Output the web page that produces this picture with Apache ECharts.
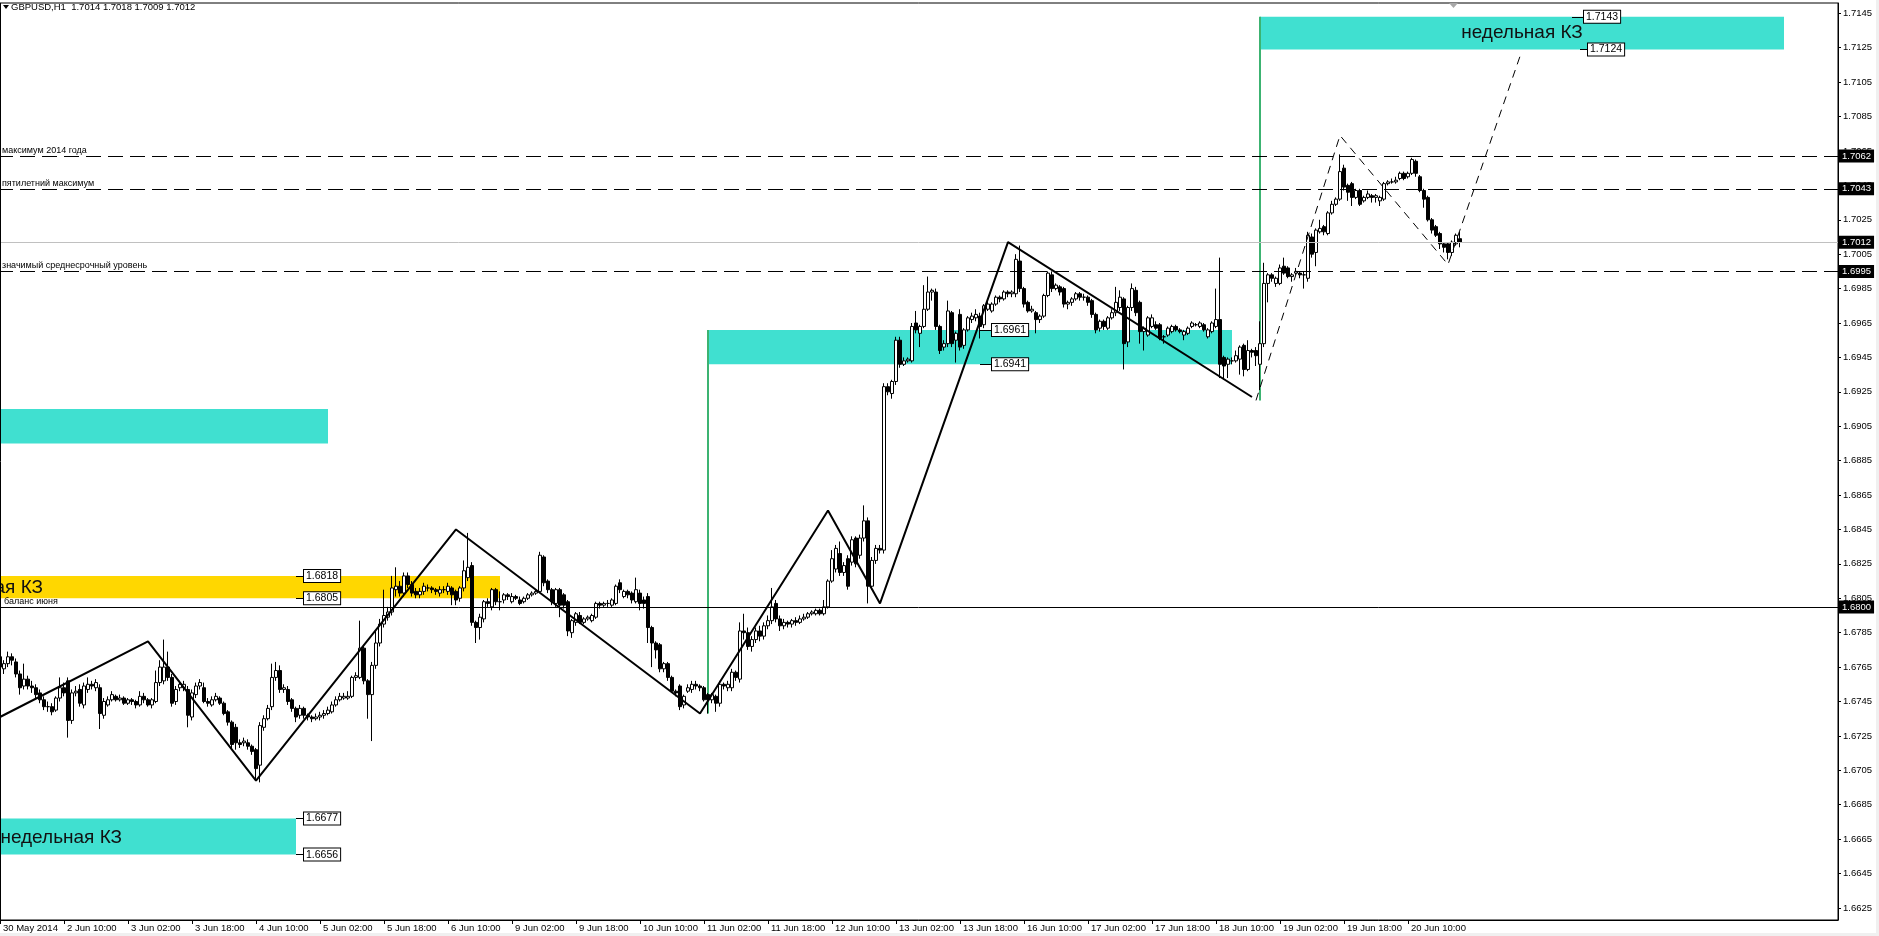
<!DOCTYPE html>
<html><head><meta charset="utf-8">
<script src="https://cdn.jsdelivr.net/npm/echarts@6/dist/echarts.min.js"></script>
<style>html,body{margin:0;padding:0;background:#fff}#c{width:1879px;height:936px}</style>
</head><body><div id="c"></div>
<script>
// ---------------- DATA ----------------
const symbolName = 'GBPUSD,H1';
const firstBar = [2014, 4, 30, 18];          // 30 May 2014 18:00, hourly bars, no weekend bars
const futureBars = 94;                         // empty slots to the right (chart shift)
// [open, close, low, high]
const candles = [
[1.6771,1.6765,1.6762,1.6775],[1.6764,1.6767,1.6761,1.6769],[1.6767,1.6771,1.6765,1.6774],[1.6771,1.6769,1.6766,1.6773],[1.6768,1.6761,1.6759,1.6770],
[1.6761,1.6753,1.6749,1.6763],[1.6754,1.6758,1.6752,1.6767],[1.6758,1.6754,1.6752,1.6760],[1.6754,1.6753,1.6750,1.6757],[1.6753,1.6749,1.6747,1.6755],
[1.6750,1.6746,1.6744,1.6752],[1.6746,1.6742,1.6740,1.6748],[1.6742,1.6742,1.6739,1.6745],[1.6742,1.6739,1.6737,1.6744],[1.6740,1.6747,1.6739,1.6748],
[1.6747,1.6753,1.6745,1.6759],[1.6753,1.6750,1.6748,1.6756],[1.6757,1.6734,1.6724,1.6759],[1.6734,1.6750,1.6732,1.6752],[1.6750,1.6751,1.6748,1.6754],
[1.6752,1.6744,1.6742,1.6755],[1.6743,1.6754,1.6741,1.6756],[1.6752,1.6755,1.6750,1.6759],[1.6755,1.6754,1.6752,1.6757],[1.6753,1.6756,1.6751,1.6758],
[1.6753,1.6738,1.6729,1.6755],[1.6737,1.6745,1.6735,1.6747],[1.6743,1.6746,1.6742,1.6748],[1.6746,1.6749,1.6745,1.6751],[1.6748,1.6746,1.6745,1.6749],
[1.6746,1.6747,1.6745,1.6749],[1.6747,1.6744,1.6743,1.6748],[1.6744,1.6746,1.6743,1.6747],[1.6746,1.6745,1.6743,1.6747],[1.6745,1.6743,1.6741,1.6746],
[1.6743,1.6748,1.6742,1.6751],[1.6748,1.6746,1.6744,1.6750],[1.6746,1.6743,1.6742,1.6747],[1.6743,1.6746,1.6741,1.6747],[1.6745,1.6756,1.6744,1.6763],
[1.6756,1.6765,1.6754,1.6769],[1.6757,1.6765,1.6755,1.6781],[1.6765,1.6759,1.6757,1.6774],[1.6759,1.6744,1.6742,1.6761],[1.6745,1.6752,1.6743,1.6754],
[1.6753,1.6755,1.6751,1.6757],[1.6753,1.6755,1.6751,1.6757],[1.6752,1.6737,1.6730,1.6754],[1.6736,1.6750,1.6734,1.6752],[1.6749,1.6754,1.6747,1.6756],
[1.6754,1.6756,1.6752,1.6758],[1.6753,1.6745,1.6744,1.6756],[1.6745,1.6744,1.6742,1.6747],[1.6743,1.6746,1.6742,1.6748],[1.6746,1.6748,1.6745,1.6750],
[1.6747,1.6744,1.6743,1.6748],[1.6744,1.6738,1.6737,1.6745],[1.6739,1.6733,1.6731,1.6740],[1.6733,1.6720,1.6718,1.6734],[1.6730,1.6721,1.6717,1.6732],
[1.6721,1.6720,1.6718,1.6723],[1.6721,1.6722,1.6719,1.6724],[1.6721,1.6719,1.6717,1.6723],[1.6719,1.6716,1.6714,1.6720],[1.6717,1.6706,1.6700,1.6718],
[1.6708,1.6731,1.6698,1.6733],[1.6730,1.6735,1.6728,1.6737],[1.6735,1.6741,1.6734,1.6743],[1.6742,1.6759,1.6740,1.6767],[1.6759,1.6763,1.6757,1.6768],
[1.6763,1.6752,1.6750,1.6766],[1.6752,1.6753,1.6750,1.6755],[1.6752,1.6745,1.6743,1.6754],[1.6746,1.6741,1.6739,1.6747],[1.6741,1.6736,1.6733,1.6742],
[1.6737,1.6741,1.6735,1.6743],[1.6741,1.6737,1.6735,1.6742],[1.6737,1.6736,1.6734,1.6738],[1.6736,1.6735,1.6733,1.6737],[1.6735,1.6736,1.6734,1.6738],
[1.6736,1.6737,1.6734,1.6739],[1.6737,1.6738,1.6735,1.6740],[1.6738,1.6740,1.6737,1.6742],[1.6739,1.6743,1.6738,1.6745],[1.6743,1.6746,1.6742,1.6748],
[1.6746,1.6748,1.6745,1.6750],[1.6747,1.6748,1.6746,1.6750],[1.6747,1.6748,1.6746,1.6751],[1.6748,1.6759,1.6747,1.6760],[1.6759,1.6760,1.6757,1.6762],
[1.6759,1.6776,1.6758,1.6792],[1.6776,1.6757,1.6755,1.6778],[1.6757,1.6749,1.6735,1.6758],[1.6749,1.6766,1.6722,1.6768],[1.6766,1.6779,1.6764,1.6786],
[1.6779,1.6790,1.6777,1.6793],[1.6790,1.6795,1.6788,1.6810],[1.6794,1.6797,1.6792,1.6800],[1.6797,1.6811,1.6795,1.6818],[1.6810,1.6812,1.6806,1.6823],
[1.6812,1.6808,1.6806,1.6815],[1.6808,1.6818,1.6806,1.6820],[1.6818,1.6813,1.6811,1.6820],[1.6813,1.6808,1.6806,1.6815],[1.6809,1.6807,1.6805,1.6811],
[1.6807,1.6809,1.6805,1.6811],[1.6809,1.6812,1.6807,1.6814],[1.6811,1.6811,1.6809,1.6813],[1.6811,1.6810,1.6808,1.6812],[1.6810,1.6809,1.6807,1.6811],
[1.6808,1.6810,1.6806,1.6812],[1.6810,1.6810,1.6808,1.6812],[1.6809,1.6812,1.6807,1.6814],[1.6811,1.6807,1.6801,1.6812],[1.6809,1.6804,1.6801,1.6810],
[1.6805,1.6811,1.6803,1.6812],[1.6811,1.6821,1.6809,1.6827],[1.6817,1.6823,1.6815,1.6843],[1.6824,1.6791,1.6789,1.6826],[1.6791,1.6788,1.6779,1.6792],
[1.6788,1.6794,1.6781,1.6796],[1.6793,1.6803,1.6791,1.6804],[1.6803,1.6802,1.6800,1.6805],[1.6800,1.6810,1.6798,1.6811],[1.6810,1.6803,1.6801,1.6811],
[1.6803,1.6803,1.6798,1.6809],[1.6804,1.6807,1.6802,1.6808],[1.6807,1.6806,1.6804,1.6808],[1.6803,1.6806,1.6802,1.6808],[1.6806,1.6805,1.6804,1.6807],
[1.6804,1.6802,1.6801,1.6806],[1.6803,1.6805,1.6802,1.6806],[1.6805,1.6807,1.6804,1.6808],[1.6807,1.6808,1.6806,1.6809],[1.6808,1.6809,1.6807,1.6810],
[1.6809,1.6830,1.6808,1.6832],[1.6829,1.6814,1.6812,1.6830],[1.6815,1.6810,1.6808,1.6816],[1.6810,1.6803,1.6801,1.6811],[1.6802,1.6810,1.6800,1.6811],
[1.6810,1.6801,1.6794,1.6811],[1.6807,1.6801,1.6799,1.6808],[1.6803,1.6786,1.6783,1.6804],[1.6785,1.6792,1.6782,1.6793],[1.6791,1.6796,1.6789,1.6797],
[1.6795,1.6791,1.6790,1.6797],[1.6791,1.6793,1.6790,1.6794],[1.6793,1.6794,1.6792,1.6795],[1.6792,1.6795,1.6791,1.6796],[1.6794,1.6802,1.6793,1.6803],
[1.6802,1.6801,1.6799,1.6803],[1.6801,1.6802,1.6800,1.6803],[1.6802,1.6802,1.6800,1.6804],[1.6801,1.6804,1.6800,1.6805],[1.6802,1.6812,1.6801,1.6813],
[1.6814,1.6810,1.6808,1.6816],[1.6806,1.6809,1.6805,1.6810],[1.6809,1.6807,1.6805,1.6810],[1.6808,1.6804,1.6802,1.6809],[1.6803,1.6810,1.6802,1.6817],
[1.6808,1.6802,1.6798,1.6810],[1.6804,1.6802,1.6799,1.6806],[1.6806,1.6788,1.6779,1.6808],[1.6788,1.6779,1.6765,1.6789],[1.6779,1.6775,1.6770,1.6780],
[1.6778,1.6764,1.6762,1.6779],[1.6764,1.6767,1.6762,1.6768],[1.6767,1.6759,1.6757,1.6768],[1.6759,1.6751,1.6750,1.6760],[1.6751,1.6750,1.6748,1.6752],
[1.6754,1.6742,1.6740,1.6755],[1.6743,1.6748,1.6741,1.6749],[1.6751,1.6753,1.6750,1.6755],[1.6752,1.6755,1.6750,1.6757],[1.6755,1.6754,1.6752,1.6757],
[1.6754,1.6753,1.6751,1.6755],[1.6753,1.6746,1.6745,1.6754],[1.6749,1.6746,1.6738,1.6750],[1.6746,1.6749,1.6744,1.6750],[1.6748,1.6744,1.6739,1.6749],
[1.6744,1.6755,1.6742,1.6757],[1.6755,1.6754,1.6752,1.6756],[1.6753,1.6755,1.6751,1.6757],[1.6753,1.6762,1.6751,1.6764],[1.6762,1.6759,1.6757,1.6763],
[1.6758,1.6786,1.6756,1.6791],[1.6786,1.6785,1.6781,1.6796],[1.6785,1.6777,1.6775,1.6788],[1.6777,1.6781,1.6774,1.6783],[1.6781,1.6786,1.6779,1.6788],
[1.6786,1.6783,1.6780,1.6789],[1.6783,1.6789,1.6781,1.6791],[1.6789,1.6792,1.6787,1.6795],[1.6792,1.6800,1.6790,1.6811],[1.6802,1.6793,1.6791,1.6804],
[1.6793,1.6789,1.6786,1.6795],[1.6789,1.6791,1.6787,1.6793],[1.6791,1.6790,1.6788,1.6792],[1.6790,1.6792,1.6788,1.6793],[1.6792,1.6791,1.6789,1.6794],
[1.6791,1.6793,1.6790,1.6795],[1.6793,1.6794,1.6792,1.6796],[1.6794,1.6796,1.6793,1.6797],[1.6796,1.6797,1.6795,1.6798],[1.6796,1.6798,1.6795,1.6799],
[1.6798,1.6796,1.6795,1.6799],[1.6796,1.6800,1.6795,1.6804],[1.6800,1.6815,1.6799,1.6816],[1.6815,1.6828,1.6814,1.6833],[1.6822,1.6834,1.6820,1.6836],
[1.6831,1.6820,1.6818,1.6838],[1.6820,1.6824,1.6818,1.6826],[1.6828,1.6812,1.6810,1.6830],[1.6826,1.6839,1.6824,1.6841],[1.6840,1.6825,1.6823,1.6841],
[1.6830,1.6840,1.6828,1.6842],[1.6840,1.6850,1.6838,1.6859],[1.6850,1.6812,1.6802,1.6852],[1.6812,1.6827,1.6810,1.6829],[1.6827,1.6834,1.6825,1.6836],
[1.6834,1.6833,1.6831,1.6836],[1.6833,1.6928,1.6831,1.6930],[1.6928,1.6925,1.6923,1.6930],[1.6924,1.6931,1.6921,1.6932],[1.6931,1.6955,1.6929,1.6957],
[1.6955,1.6941,1.6939,1.6957],[1.6941,1.6943,1.6940,1.6945],[1.6943,1.6944,1.6942,1.6945],[1.6943,1.6963,1.6942,1.6965],[1.6965,1.6961,1.6959,1.6972],
[1.6959,1.6963,1.6951,1.6964],[1.6963,1.6973,1.6962,1.6987],[1.6973,1.6983,1.6972,1.6992],[1.6983,1.6984,1.6978,1.6985],[1.6983,1.6963,1.6961,1.6985],
[1.6963,1.6949,1.6947,1.6964],[1.6951,1.6953,1.6949,1.6955],[1.6953,1.6972,1.6951,1.6978],[1.6971,1.6953,1.6951,1.6972],[1.6955,1.6959,1.6942,1.6960],
[1.6970,1.6951,1.6949,1.6973],[1.6952,1.6961,1.6950,1.6962],[1.6961,1.6968,1.6960,1.6969],[1.6967,1.6969,1.6965,1.6971],[1.6968,1.6970,1.6966,1.6973],
[1.6969,1.6963,1.6956,1.6971],[1.6964,1.6975,1.6962,1.6976],[1.6973,1.6976,1.6972,1.6978],[1.6972,1.6976,1.6971,1.6977],[1.6976,1.6980,1.6975,1.6981],
[1.6980,1.6979,1.6977,1.6981],[1.6979,1.6983,1.6978,1.6984],[1.6983,1.6982,1.6980,1.6984],[1.6982,1.6983,1.6980,1.6984],[1.6982,1.7002,1.6980,1.7005],
[1.7001,1.6985,1.6983,1.7010],[1.6985,1.6976,1.6974,1.6986],[1.6977,1.6972,1.6971,1.6978],[1.6972,1.6973,1.6971,1.6975],[1.6971,1.6967,1.6959,1.6972],
[1.6967,1.6969,1.6965,1.6970],[1.6969,1.6981,1.6968,1.6982],[1.6981,1.6994,1.6980,1.6995],[1.6993,1.6985,1.6983,1.6995],[1.6985,1.6987,1.6984,1.6988],
[1.6986,1.6983,1.6981,1.6987],[1.6985,1.6976,1.6974,1.6986],[1.6976,1.6977,1.6973,1.6978],[1.6977,1.6979,1.6975,1.6980],[1.6979,1.6982,1.6978,1.6983],
[1.6982,1.6980,1.6978,1.6983],[1.6980,1.6980,1.6978,1.6982],[1.6980,1.6977,1.6975,1.6981],[1.6978,1.6970,1.6968,1.6979],[1.6970,1.6961,1.6959,1.6971],
[1.6962,1.6966,1.6960,1.6967],[1.6966,1.6963,1.6961,1.6967],[1.6962,1.6968,1.6961,1.6969],[1.6968,1.6971,1.6967,1.6973],[1.6971,1.6977,1.6969,1.6986],
[1.6974,1.6980,1.6972,1.6984],[1.6979,1.6953,1.6938,1.6980],[1.6954,1.6974,1.6951,1.6975],[1.6974,1.6985,1.6972,1.6988],[1.6984,1.6971,1.6969,1.6986],
[1.6977,1.6960,1.6953,1.6978],[1.6960,1.6962,1.6949,1.6963],[1.6958,1.6968,1.6957,1.6969],[1.6963,1.6968,1.6962,1.6970],[1.6964,1.6962,1.6961,1.6966],
[1.6964,1.6956,1.6955,1.6965],[1.6957,1.6957,1.6953,1.6958],[1.6958,1.6962,1.6957,1.6963],[1.6960,1.6963,1.6959,1.6964],[1.6963,1.6961,1.6960,1.6964],
[1.6961,1.6960,1.6959,1.6962],[1.6958,1.6960,1.6955,1.6961],[1.6959,1.6962,1.6958,1.6963],[1.6963,1.6965,1.6962,1.6966],[1.6964,1.6964,1.6963,1.6965],
[1.6963,1.6965,1.6962,1.6966],[1.6964,1.6961,1.6960,1.6965],[1.6957,1.6961,1.6956,1.6962],[1.6960,1.6965,1.6959,1.6966],[1.6963,1.6967,1.6962,1.6985],
[1.6967,1.6941,1.6933,1.7003],[1.6945,1.6940,1.6932,1.6946],[1.6941,1.6944,1.6933,1.6945],[1.6943,1.6943,1.6941,1.6945],[1.6943,1.6946,1.6942,1.6949],
[1.6944,1.6951,1.6935,1.6952],[1.6952,1.6938,1.6934,1.6953],[1.6938,1.6949,1.6937,1.6955],[1.6949,1.6948,1.6945,1.6950],[1.6949,1.6946,1.6940,1.6951],
[1.6941,1.6953,1.6926,1.6966],[1.6953,1.6988,1.6951,1.7000],[1.6988,1.6993,1.6977,1.6994],[1.6993,1.6991,1.6989,1.6994],[1.6988,1.6991,1.6986,1.6992],
[1.6988,1.6997,1.6987,1.6999],[1.6998,1.6994,1.6993,1.7003],[1.6997,1.6992,1.6991,1.6998],[1.6992,1.6993,1.6989,1.6994],[1.6994,1.6995,1.6993,1.6997],
[1.6994,1.6993,1.6991,1.6995],[1.6993,1.6993,1.6985,1.6995],[1.6991,1.7016,1.6989,1.7018],[1.7015,1.7005,1.7003,1.7017],[1.7006,1.7019,1.6998,1.7020],
[1.7018,1.7020,1.7017,1.7025],[1.7021,1.7018,1.7016,1.7022],[1.7017,1.7029,1.7016,1.7030],[1.7029,1.7034,1.7028,1.7036],[1.7034,1.7037,1.7033,1.7038],
[1.7037,1.7053,1.7036,1.7063],[1.7055,1.7044,1.7042,1.7057],[1.7045,1.7041,1.7036,1.7046],[1.7046,1.7038,1.7033,1.7047],[1.7038,1.7042,1.7037,1.7043],
[1.7042,1.7034,1.7033,1.7043],[1.7036,1.7038,1.7035,1.7039],[1.7038,1.7040,1.7037,1.7042],[1.7039,1.7038,1.7035,1.7040],[1.7038,1.7039,1.7035,1.7040],
[1.7036,1.7038,1.7033,1.7039],[1.7037,1.7046,1.7036,1.7047],[1.7046,1.7047,1.7045,1.7048],[1.7047,1.7047,1.7046,1.7049],[1.7047,1.7048,1.7046,1.7050],
[1.7049,1.7052,1.7048,1.7053],[1.7052,1.7049,1.7048,1.7053],[1.7050,1.7052,1.7049,1.7053],[1.7052,1.7060,1.7051,1.7061],[1.7059,1.7052,1.7050,1.7060],
[1.7050,1.7042,1.7041,1.7051],[1.7042,1.7037,1.7032,1.7043],[1.7038,1.7025,1.7024,1.7039],[1.7025,1.7019,1.7017,1.7026],[1.7021,1.7016,1.7015,1.7022],
[1.7017,1.7011,1.7008,1.7018],[1.7011,1.7009,1.7006,1.7012],[1.7011,1.7006,1.7002,1.7012],[1.7006,1.7012,1.7004,1.7013],[1.7011,1.7016,1.7010,1.7017],
[1.7014,1.7012,1.7009,1.7018]
];

const yMin = 1.6618, yMax = 1.7151;
const yTicks = [1.6625,1.6645,1.6665,1.6685,1.6705,1.6725,1.6745,1.6765,1.6785,1.6805,1.6825,1.6845,1.6865,1.6885,
                1.6905,1.6925,1.6945,1.6965,1.6985,1.7005,1.7025,1.7045,1.7065,1.7085,1.7105,1.7125,1.7145];
const xTickEvery = 16;

// hand-drawn zigzag (bar index, price)
const zigzag = [[0,1.6736],[37,1.6780],[64,1.6699],[114,1.6845],[175,1.6738],[207,1.6856],[220,1.6802],[252,1.7012],[313,1.6922]];
// dashed forecast path
const forecast = [[314,1.6920],[335,1.7074],[362,1.6999],[380,1.7120]];
// green vertical markers: bar, low price, high price
const greenMarks = [[177,1.6738,1.6961],[315,1.6920,1.7143]];

// horizontal levels
const levelValues = [1.7062, 1.7043, 1.6995];
const levelTexts  = ['максимум 2014 года', 'пятилетний максимум', 'значимый среднесрочный уровень'];
const balanceValue = 1.6800;
const balanceText = 'баланс июня';

// zones (КЗ): bar range, price range, caption
const zoneBars   = [[315,446],[177,308],[0,82],[0,125],[0,74]];
const zonePrices = [[1.7143,1.7124],[1.6961,1.6941],[1.6915,1.6895],[1.6818,1.6805],[1.6677,1.6656]];
const zoneTexts  = ['недельная КЗ','','','месячная КЗ','недельная КЗ'];

// price tags: from bar, to bar, price
const priceTags = [[74,76,1.6818],[74,76,1.6805],[74,76,1.6677],[74,76,1.6656],
                   [245,248,1.6961],[245,248,1.6941],[393,396,1.7143],[395,397,1.7124]];

// ---------------- BUILD ----------------
const FONT = "'Liberation Sans', Arial, sans-serif";
const MONTHS = ['Jan','Feb','Mar','Apr','May','Jun','Jul','Aug','Sep','Oct','Nov','Dec'];
const cats = [];
{
  let t = Date.UTC(firstBar[0], firstBar[1], firstBar[2], firstBar[3]);
  while (cats.length < candles.length + futureBars) {
    const wd = new Date(t).getUTCDay();
    if (wd !== 0 && wd !== 6) cats.push(String(t));
    t += 3600000;
  }
}
const pad2 = n => (n < 10 ? '0' : '') + n;
function fmtTime(v, idx) {
  const d = new Date(Number(v));
  if (idx === 0) return d.getUTCDate() + ' ' + MONTHS[d.getUTCMonth()] + ' ' + d.getUTCFullYear();
  return d.getUTCDate() + ' ' + MONTHS[d.getUTCMonth()] + ' ' + pad2(d.getUTCHours()) + ':' + pad2(d.getUTCMinutes());
}
const showTick = (idx) => idx % xTickEvery === 0 && idx < candles.length;

const last = candles[candles.length - 1];
const lastClose = last[1];
const turquoise = '#40E0D0', gold = '#FFD700', green = '#3CB371';

const mlData = [];
levelValues.forEach((v, i) => mlData.push({
  yAxis: v, lineStyle: {color: '#000', width: 1, type: [15, 7]},
  label: {show: true, position: 'insideStartTop', formatter: levelTexts[i], fontSize: 9, fontFamily: FONT, color: '#000', distance: [4, 1]}
}));
mlData.push({yAxis: balanceValue, lineStyle: {color: '#000', width: 1, type: 'solid'},
  label: {show: true, position: 'insideStartTop', formatter: balanceText, fontSize: 9, fontFamily: FONT, color: '#000', distance: [6, 1]}});
mlData.push({yAxis: lastClose, lineStyle: {color: '#c0c0c0', width: 1, type: 'solid'}, label: {show: false}});
priceTags.forEach(([a, b, v]) => mlData.push([
  {coord: [a, v], lineStyle: {color: '#000', width: 1, type: 'solid'},
   label: {show: true, position: 'end', formatter: v.toFixed(4), color: '#000', backgroundColor: '#fff',
           borderColor: '#000', borderWidth: 1, padding: [1, 2, 0, 2], distance: 0, fontSize: 10.5, fontFamily: FONT}},
  {coord: [b, v]}
]));

// right-edge price boxes (black background)
const axisTagData = [...levelValues, lastClose, balanceValue].map(v => ({
  yAxis: v, lineStyle: {color: 'rgba(0,0,0,0)', width: 0},
  label: {show: true, position: 'end', formatter: v.toFixed(4), backgroundColor: '#000', color: '#fff',
          padding: [2, 3, 1, 3], distance: 1, fontSize: 9.5, fontFamily: FONT}
}));

const maData = zoneBars.map((b, i) => {
  const color = i === 3 ? gold : turquoise;
  let label = {show: false};
  if (zoneTexts[i]) {
    label = {show: true, formatter: zoneTexts[i], color: '#111', fontSize: 19, fontFamily: FONT};
    if (i === 0) Object.assign(label, {position: 'inside'});
    else Object.assign(label, {position: [i === 3 ? 43 : 122, '52%'], align: 'right', verticalAlign: 'middle'});
  }
  return [{xAxis: b[0], yAxis: zonePrices[i][0], itemStyle: {color, opacity: 1, borderWidth: 0}, label},
          {xAxis: b[1], yAxis: zonePrices[i][1]}];
});

const series = [
  {
    type: 'candlestick', data: candles, barWidth: 3, z: 3,
    itemStyle: {color: '#fff', color0: '#000', borderColor: '#000', borderColor0: '#000', borderColorDoji: '#000', borderWidth: 1},
    markArea: {silent: true, z: 1, data: maData},
    markLine: {silent: true, symbol: 'none', z: 4, precision: 4, data: mlData}
  },
  {type: 'line', data: zigzag, symbol: 'none', z: 4, silent: true, lineStyle: {color: '#000', width: 2}},
  {type: 'line', data: forecast, symbol: 'none', z: 4, silent: true, lineStyle: {color: '#000', width: 1, type: [8, 6]}},
  {type: 'line', data: [], symbol: 'none', z: 6, silent: true,
   markLine: {silent: true, symbol: 'none', z: 6, precision: 4, data: axisTagData}}
];
greenMarks.forEach(([x, lo, hi]) => series.push({
  type: 'line', data: [[x, lo], [x, hi]], symbol: 'none', z: 2, silent: true, lineStyle: {color: green, width: 2}
}));

const chart = echarts.init(document.getElementById('c'), null, {renderer: 'canvas', width: 1879, height: 936});
chart.setOption({
  animation: false,
  backgroundColor: '#fff',
  textStyle: {fontFamily: FONT},
  grid: {left: -2, right: 41, top: 3, bottom: 16, show: true, borderColor: '#000', borderWidth: 1, outerBoundsMode: 'none'},
  xAxis: {
    type: 'category', data: cats, boundaryGap: true,
    axisLine: {show: true, lineStyle: {color: '#000', width: 1}},
    axisTick: {show: true, alignWithLabel: true, length: 4, interval: showTick, lineStyle: {color: '#000'}},
    axisLabel: {interval: showTick, formatter: fmtTime, color: '#000', fontSize: 9.5, fontFamily: FONT, align: 'left', margin: 3, padding: [0, 0, 0, 3]},
    splitLine: {show: false}
  },
  yAxis: {
    type: 'value', position: 'right', min: yMin, max: yMax, scale: true,
    axisLine: {show: true, lineStyle: {color: '#000', width: 1}},
    axisTick: {show: true, length: 3, customValues: yTicks, lineStyle: {color: '#000'}},
    axisLabel: {customValues: yTicks, formatter: v => v.toFixed(4), color: '#000', fontSize: 9.5, fontFamily: FONT, margin: 5, align: 'left'},
    splitLine: {show: false}
  },
  graphic: [
    {type: 'line', shape: {x1: 0.5, y1: 3, x2: 0.5, y2: 920}, style: {stroke: '#000', lineWidth: 1}, z: 10},
    {type: 'polygon', shape: {points: [[3, 5], [9, 5], [6, 9]]}, style: {fill: '#000'}, z: 10},
    {type: 'text', left: 11, top: 2, z: 10,
     style: {text: symbolName + '  ' + [last[0], last[3], last[2], last[1]].map(v => v.toFixed(4)).join(' '),
             fill: '#000', font: '9.5px ' + FONT}},
    {type: 'polygon', shape: {points: [[1449, 3], [1458, 3], [1453.5, 8]]}, style: {fill: '#a8a8a8'}, z: 10},
    {type: 'rect', shape: {x: 0, y: 933, width: 1879, height: 3}, style: {fill: '#f0f0f0'}, z: 10},
    {type: 'rect', shape: {x: 1876, y: 0, width: 3, height: 936}, style: {fill: '#f0f0f0'}, z: 10}
  ],
  series
});
</script>
</body></html>
